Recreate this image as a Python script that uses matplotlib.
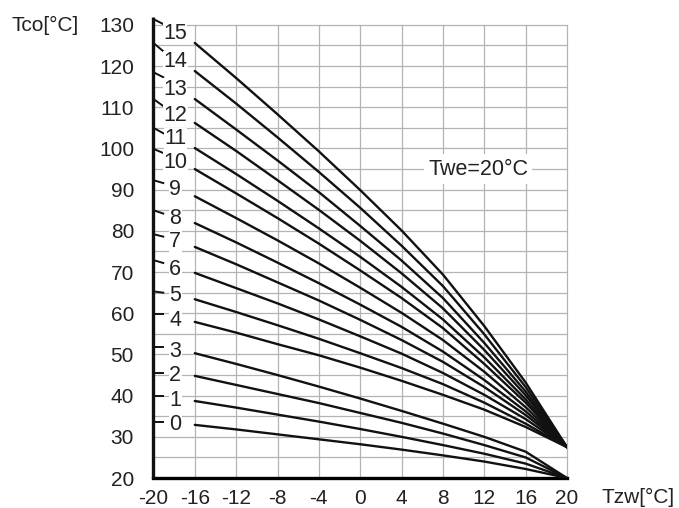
# Heating curves: supply temperature Tco vs outdoor temperature Tzw (Twe = 20 C)

import matplotlib.pyplot as plt

plt.rcParams['font.family'] = ['Liberation Sans', 'DejaVu Sans']

tzw = [-16, -12, -8, -4, 0, 4, 8, 12, 16, 20]

# curve number -> Tco values read at the tzw points above
curves = {
    15: [125.6, 117.1, 108.3, 99.3, 89.9, 80.1, 69.4, 56.9, 43.2, 27.5],
    14: [118.8, 110.9, 102.7, 94.3, 85.6, 76.4, 66.6, 54.9, 42.1, 27.5],
    13: [112.0, 104.6, 97.1, 89.4, 81.2, 72.8, 63.7, 52.8, 41.0, 27.5],
    12: [106.2, 99.4, 92.3, 85.1, 77.6, 69.7, 61.2, 51.1, 40.1, 27.5],
    11: [100.1, 93.8, 87.3, 80.6, 73.7, 66.4, 58.5, 49.3, 39.1, 27.5],
    10: [95.0, 89.1, 83.1, 76.9, 70.4, 63.7, 56.4, 47.7, 38.3, 27.5],
    9: [88.4, 83.1, 77.7, 72.1, 66.2, 60.1, 53.5, 45.8, 37.2, 27.5],
    8: [81.9, 77.2, 72.3, 67.3, 62.1, 56.7, 50.7, 43.8, 36.2, 27.5],
    7: [76.1, 71.9, 67.5, 63.1, 58.4, 53.5, 48.2, 42.1, 35.3, 27.5],
    6: [69.8, 66.1, 62.4, 58.5, 54.4, 50.2, 45.5, 40.2, 34.3, 27.5],
    5: [63.4, 60.3, 57.1, 53.8, 50.3, 46.7, 42.8, 38.3, 33.2, 27.5],
    4: [57.9, 55.3, 52.5, 49.8, 46.8, 43.6, 40.2, 36.6, 32.4, 27.5],
    3: [50.3, 47.7, 45.0, 42.2, 39.3, 36.3, 33.2, 30.0, 26.4, 20.0],
    2: [44.8, 42.6, 40.4, 38.2, 35.8, 33.4, 30.8, 28.0, 25.0, 20.0],
    1: [38.7, 37.1, 35.4, 33.7, 31.9, 30.0, 28.0, 25.9, 23.5, 20.0],
    0: [32.9, 31.8, 30.6, 29.4, 28.2, 26.9, 25.5, 24.0, 22.2, 20.0],
}

# where the curve numbers sit, and the little marks on the axis next to them
label_y = [32.9, 38.9, 45.0, 50.6, 58.3, 64.2, 70.7, 77.3, 83.1, 90.1,
           96.7, 102.3, 108.1, 114.4, 121.0, 128.0]
mark_hi = [33.6, 39.9, 45.5, 51.8, 59.8, 65.3, 72.9, 79.2, 85.0, 92.3,
           99.9, 105.0, 112.0, 118.5, 125.6, 131.4]
mark_lo = [33.6, 39.9, 45.5, 51.8, 59.8, 65.0, 72.2, 78.6, 84.2, 91.6,
           98.9, 103.7, 110.3, 117.3, 123.6, 130.2]

x_ticks = [-20, -16, -12, -8, -4, 0, 4, 8, 12, 16, 20]
y_ticks = [20, 30, 40, 50, 60, 70, 80, 90, 100, 110, 120, 130]

fig = plt.figure(figsize=(6.79, 5.08), dpi=100)
ax = fig.add_axes([0.226, 0.059, 0.609, 0.892])

ax.set_xlim(-20, 20)
ax.set_ylim(20, 130)

# grid
grid_kw = dict(color='#b4b4b4', lw=0.9, zorder=1, clip_on=False)
for gx in range(-16, 21, 4):
    ax.plot([gx, gx], [20, 130], **grid_kw)
for gy in range(25, 131, 5):
    ax.plot([-20, 20], [gy, gy], **grid_kw)

for n, vals in curves.items():
    ax.plot(tzw, vals, color='#111111', lw=1.7, zorder=3, solid_capstyle='round')

for i in range(16):
    ax.plot([-20, -19.05], [mark_hi[i], mark_lo[i]], color='#111111', lw=1.4,
            zorder=4, clip_on=False)
    ax.text(-17.9, label_y[i], str(i), fontsize=15.5, ha='center', va='center',
            color='#222222', zorder=5,
            bbox=dict(facecolor='white', edgecolor='none', pad=0.3))

ax.text(11.4, 95, 'Twe=20°C', fontsize=15.5, ha='center', va='center',
        color='#222222', zorder=5,
        bbox=dict(facecolor='white', edgecolor='none', pad=3))

for s in ['top', 'right', 'left']:
    ax.spines[s].set_visible(False)
ax.spines['bottom'].set_linewidth(2.4)
ax.plot([-20, -20], [20, 131.8], color='#111111', lw=2.4, zorder=6,
        clip_on=False, solid_capstyle='butt')

ax.set_xticks(x_ticks)
ax.set_xticklabels([str(v) for v in x_ticks])
ax.set_yticks(y_ticks)
ax.set_yticklabels([str(v) for v in y_ticks])
ax.tick_params(axis='x', length=0, pad=8, labelsize=15, labelcolor='#222222')
ax.tick_params(axis='y', length=0, pad=14, labelsize=15, labelcolor='#222222')

fig.text(12 / 679, 1 - 25 / 508, 'Tco[°C]', fontsize=15, ha='left', va='center',
         color='#222222')
fig.text(602 / 679, 1 - 497 / 508, 'Tzw[°C]', fontsize=15, ha='left', va='center',
         color='#222222')

fig.savefig('out.png', dpi=100)
